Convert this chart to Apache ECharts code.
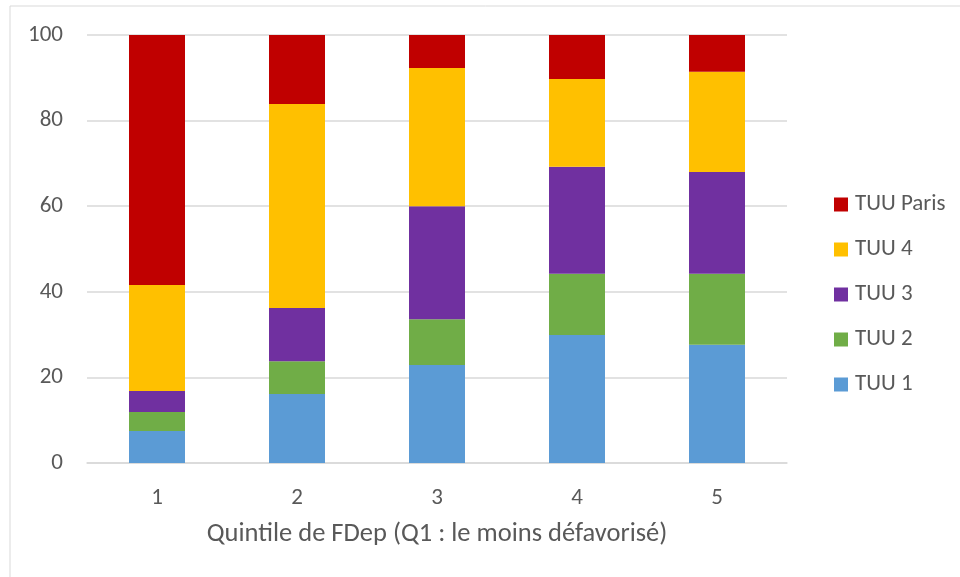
<!DOCTYPE html>
<html>
<head>
<meta charset="utf-8">
<script src="https://cdn.jsdelivr.net/npm/echarts@6/dist/echarts.min.js"></script>
<style>
  html, body { margin: 0; padding: 0; background: #fff; }
  #chart { width: 960px; height: 577px; }
</style>
</head>
<body>
<div id="chart"></div>
<script>
// quintiles
var categories = ['1', '2', '3', '4', '5'];
// parts par tranche d'unité urbaine (%)
var tuu1 = [7.5, 16.1, 22.9, 29.9, 27.6];
var tuu2 = [4.4, 7.7, 10.7, 14.3, 16.6];
var tuu3 = [4.9, 12.4, 26.4, 25.0, 23.8];
var tuu4 = [24.8, 47.7, 32.3, 20.5, 23.4];
var tuuParis = [58.4, 16.1, 7.7, 10.3, 8.6];
var yTicks = [0, 20, 40, 60, 80, 100];

var font = 'Carlito, "Open Sans", "Noto Sans", sans-serif';
var textColor = '#595959';

var chart = echarts.init(document.getElementById('chart'));

function serie(name, data, color) {
    return {
        name: name,
        type: 'bar',
        stack: 'total',
        barWidth: '40%',
        data: data,
        itemStyle: { color: color },
        emphasis: { disabled: true }
    };
}

var option = {
    animation: false,
    graphic: [{
        type: 'rect',
        shape: { x: 10, y: 6, width: 960, height: 600 },
        style: { fill: 'none', stroke: '#d9d9d9', lineWidth: 1 }
    }],
    grid: { left: 87, right: 173, top: 35, bottom: 114 },
    legend: {
        orient: 'vertical',
        left: 829,
        top: 188,
        itemWidth: 14,
        itemHeight: 14,
        itemGap: 22,
        icon: 'rect',
        textStyle: { fontFamily: font, fontSize: 23, lineHeight: 20, color: textColor, padding: [0, 0, 0, 2] },
        data: ['TUU Paris', 'TUU 4', 'TUU 3', 'TUU 2', 'TUU 1']
    },
    xAxis: {
        type: 'category',
        data: categories,
        name: 'Quintile de FDep (Q1 : le moins défavorisé)',
        nameLocation: 'middle',
        nameGap: 58,
        nameTextStyle: { fontFamily: font, fontSize: 26.5, color: textColor },
        axisLine: { lineStyle: { color: '#d9d9d9', width: 1.5 } },
        axisTick: { show: false },
        axisLabel: { fontFamily: font, fontSize: 23, color: textColor, margin: 24 }
    },
    yAxis: {
        type: 'value',
        min: yTicks[0],
        max: yTicks[yTicks.length - 1],
        interval: 20,
        axisLine: { show: false },
        axisTick: { show: false },
        axisLabel: { fontFamily: font, fontSize: 23, color: textColor, margin: 24 },
        splitLine: { lineStyle: { color: '#d9d9d9', width: 1.5 } }
    },
    series: [
        serie('TUU 1', tuu1, '#5b9bd5'),
        serie('TUU 2', tuu2, '#70ad47'),
        serie('TUU 3', tuu3, '#7030a0'),
        serie('TUU 4', tuu4, '#ffc000'),
        serie('TUU Paris', tuuParis, '#c00000')
    ]
};

chart.setOption(option);
</script>
</body>
</html>
